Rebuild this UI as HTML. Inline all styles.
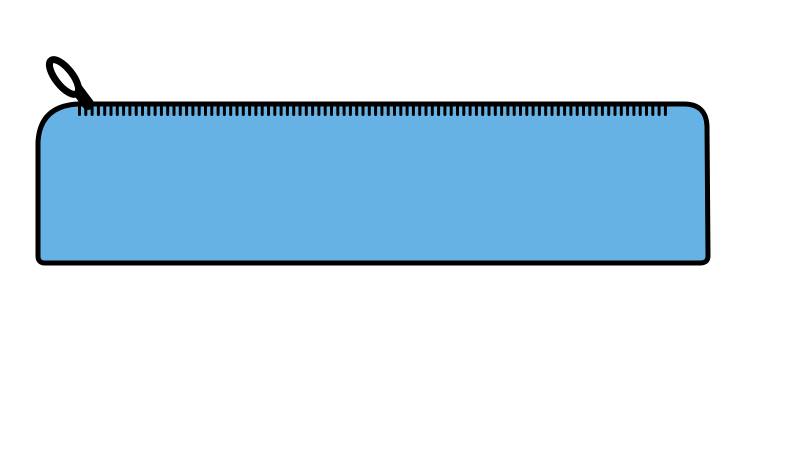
<!DOCTYPE html>
<html><head><meta charset="utf-8"><style>html,body{margin:0;padding:0;background:#fff;width:788px;height:454px;overflow:hidden}</style></head>
<body>
<svg width="788" height="454" viewBox="0 0 788 454">
  <path d="M78,104 L684,104 Q706,104 707,126 L708,256 Q708,263 700,263 L45,263 Q38,263 38,256 L38,142 Q40,106 78,104 Z" fill="#66B2E4" stroke="#000" stroke-width="5" stroke-linejoin="round"/>
  <g id="teeth" fill="#000"></g>
  <g>
    <path d="M88,104 L70,80" stroke="#000" stroke-width="12" stroke-linecap="round"/>
    <ellipse cx="64" cy="77" rx="8.5" ry="21" transform="rotate(-38 64 77)" fill="#fff" stroke="#000" stroke-width="7"/>
  </g>
</svg>
<script>
var g=document.getElementById('teeth');
for(var x=78;x<=670;x+=6.3){
  var r=document.createElementNS('http://www.w3.org/2000/svg','rect');
  r.setAttribute('x',x.toFixed(1));r.setAttribute('y',105);r.setAttribute('width',3);r.setAttribute('height',11);r.setAttribute('rx',1.5);
  
  
  g.appendChild(r);
}
</script>
</body></html>
